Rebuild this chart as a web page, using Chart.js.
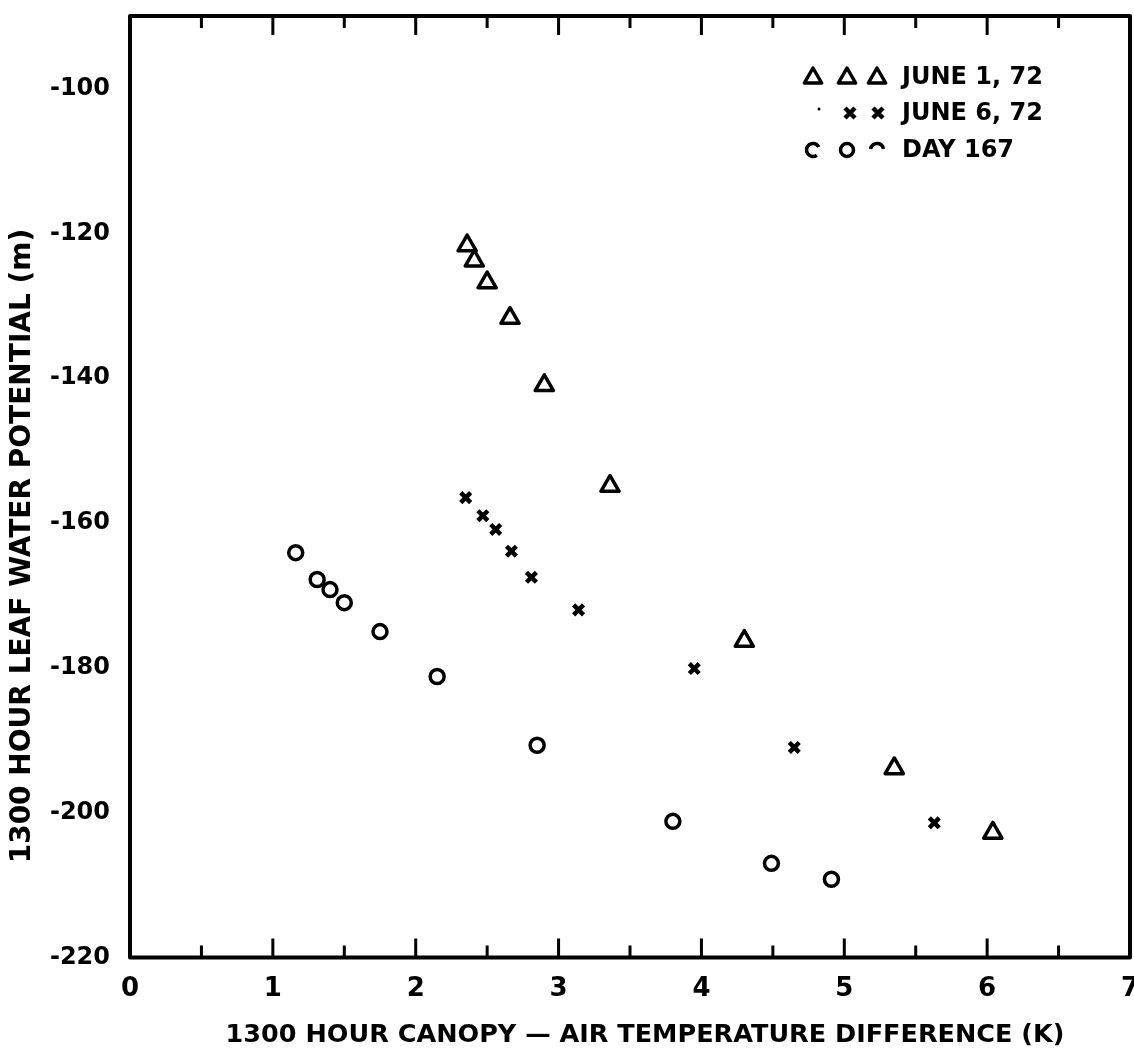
<!DOCTYPE html>
<html>
<head>
<meta charset="utf-8">
<script src="https://cdn.jsdelivr.net/npm/chart.js@4"></script>
<style>
  html, body { margin: 0; padding: 0; background: #fff; }
  #wrap { width: 1134px; height: 1053px; position: relative; }
</style>
</head>
<body>
<div id="wrap"><canvas id="leafChart"></canvas></div>
<script>
// values
const june1X = [2.36, 2.41, 2.50, 2.66, 2.90, 3.36, 4.30, 5.35, 6.04];
const june1Y = [-121.7, -123.8, -126.8, -131.7, -141.0, -154.9, -176.3, -193.9, -202.8];

const june6X = [2.35, 2.47, 2.56, 2.67, 2.81, 3.14, 3.95, 4.65, 5.63];
const june6Y = [-156.5, -159.0, -160.9, -163.9, -167.5, -172.0, -180.1, -191.0, -201.4];

const day167X = [1.16, 1.31, 1.40, 1.50, 1.75, 2.15, 2.85, 3.80, 4.49, 4.91];
const day167Y = [-164.1, -167.8, -169.2, -171.0, -175.0, -181.2, -190.7, -201.2, -207.0, -209.2];

const legendLabels = ['JUNE 1, 72', 'JUNE 6, 72', 'DAY 167'];

const xTitle = '1300 HOUR CANOPY \u2014 AIR TEMPERATURE DIFFERENCE (K)';
const yTitle = '1300 HOUR LEAF WATER POTENTIAL (m)';

const FONT = "'DejaVu Sans', 'Liberation Sans', sans-serif";

function toPoints(xs, ys) {
    return xs.map((x, i) => ({ x: x, y: ys[i] }));
}

// frame + inward ticks on all four sides
const frameTicks = {
    id: 'frameTicks',
    beforeDatasetsDraw(chart) {
        chart.ctx.lineJoin = 'round';
    },
    afterDatasetsDraw(chart) {
        const { ctx, chartArea: a, scales: { x, y } } = chart;
        ctx.save();
        ctx.strokeStyle = '#000';
        ctx.lineCap = 'butt';
        ctx.lineWidth = 3;
        ctx.beginPath();
        // x: major every 1, minor every 0.5
        for (let v = 0.5; v < 7; v += 0.5) {
            const px = x.getPixelForValue(v);
            const major = Math.abs(v - Math.round(v)) < 1e-6;
            const len = major ? 19 : 12;
            ctx.moveTo(px, a.bottom);
            ctx.lineTo(px, a.bottom - len);
            ctx.moveTo(px, a.top);
            ctx.lineTo(px, a.top + len);
        }
        // y: major every 20, minor every 10
        for (let v = -210; v > -90; v += 10) {
            const py = y.getPixelForValue(v);
            const major = v % 20 === 0;
            const len = major ? 19 : 12;
            ctx.moveTo(a.left, py);
            ctx.lineTo(a.left + len, py);
            ctx.moveTo(a.right, py);
            ctx.lineTo(a.right - len, py);
        }
        ctx.stroke();
        ctx.lineWidth = 4;
        ctx.strokeRect(a.left, a.top, a.right - a.left, a.bottom - a.top);
        ctx.restore();
    }
};

// axis titles, placed where the figure has them
const axisTitles = {
    id: 'axisTitles',
    afterDraw(chart) {
        const ctx = chart.ctx;
        ctx.save();
        ctx.fillStyle = '#000';
        ctx.textAlign = 'center';
        ctx.textBaseline = 'middle';
        ctx.font = 'bold 25.5px ' + FONT;
        ctx.fillText(xTitle, 645, 1035);
        ctx.translate(23, 546);
        ctx.rotate(-Math.PI / 2);
        ctx.font = 'bold 28px ' + FONT;
        ctx.fillText(yTitle, 0, 0);
        ctx.restore();
    }
};

// legend in the upper right: three symbols then the label
const symbolLegend = {
    id: 'symbolLegend',
    afterDraw(chart) {
        const ctx = chart.ctx;
        const rows = [77, 113, 150];
        const cols = [813, 847, 877];
        const textX = 902;
        ctx.save();
        ctx.strokeStyle = '#000';
        ctx.fillStyle = '#000';
        ctx.lineJoin = 'round';

        // triangles
        ctx.lineWidth = 3.5;
        cols.forEach(cx => {
            const r = 10, cy = rows[0] + 1;
            ctx.beginPath();
            ctx.moveTo(cx, cy - r);
            ctx.lineTo(cx + r * 0.866, cy + r / 2);
            ctx.lineTo(cx - r * 0.866, cy + r / 2);
            ctx.closePath();
            ctx.stroke();
        });

        // crosses (first one printed only as a dot)
        ctx.beginPath();
        ctx.arc(cols[0] + 6, rows[1] - 4, 1.5, 0, Math.PI * 2);
        ctx.fill();
        ctx.lineWidth = 4.5;
        [cols[1] + 3, cols[2] + 1].forEach(cx => {
            const d = 5;
            ctx.beginPath();
            ctx.moveTo(cx - d, rows[1] - d);
            ctx.lineTo(cx + d, rows[1] + d);
            ctx.moveTo(cx + d, rows[1] - d);
            ctx.lineTo(cx - d, rows[1] + d);
            ctx.stroke();
        });

        // circles (outer two partly missing in the print)
        ctx.lineWidth = 3.5;
        const arcs = [[0.3, 1.85], [0, 2], [1.05, 1.95]];
        cols.forEach((cx, i) => {
            ctx.beginPath();
            ctx.arc(cx, rows[2], 6.5, arcs[i][0] * Math.PI, arcs[i][1] * Math.PI);
            ctx.stroke();
        });

        ctx.font = 'bold 24px ' + FONT;
        ctx.textBaseline = 'middle';
        ctx.textAlign = 'left';
        legendLabels.forEach((t, i) => ctx.fillText(t, textX, rows[i] + 1));
        ctx.restore();
    }
};

Chart.defaults.font.family = FONT;
Chart.defaults.color = '#000';

new Chart(document.getElementById('leafChart'), {
    type: 'scatter',
    data: {
        datasets: [
            {
                label: legendLabels[0],
                data: toPoints(june1X, june1Y),
                pointStyle: 'triangle',
                pointRadius: 10.5,
                pointBorderWidth: 3.5,
                pointBorderColor: '#000',
                pointBackgroundColor: 'rgba(0,0,0,0)'
            },
            {
                label: legendLabels[1],
                data: toPoints(june6X, june6Y),
                pointStyle: 'crossRot',
                pointRadius: 7,
                pointBorderWidth: 4.5,
                pointBorderColor: '#000',
                pointBackgroundColor: '#000'
            },
            {
                label: legendLabels[2],
                data: toPoints(day167X, day167Y),
                pointStyle: 'circle',
                pointRadius: 7,
                pointBorderWidth: 3.5,
                pointBorderColor: '#000',
                pointBackgroundColor: 'rgba(0,0,0,0)'
            }
        ]
    },
    options: {
        responsive: true,
        maintainAspectRatio: false,
        animation: false,
        layout: { autoPadding: false, padding: { top: 16, right: 4, bottom: 0, left: 0 } },
        plugins: {
            legend: { display: false },
            tooltip: { enabled: false }
        },
        scales: {
            x: {
                type: 'linear',
                min: 0,
                max: 7,
                grid: { display: false, drawTicks: false },
                border: { display: false },
                ticks: {
                    stepSize: 1,
                    padding: 16,
                    font: { size: 26, weight: 'bold' },
                    color: '#000'
                },
                afterFit(scale) {
                    scale.height = 95.5;
                    scale.paddingLeft = 0;
                    scale.paddingRight = 0;
                }
            },
            y: {
                type: 'linear',
                min: -220,
                max: -90,
                grid: { display: false, drawTicks: false },
                border: { display: false },
                ticks: {
                    stepSize: 20,
                    includeBounds: false,
                    padding: 20,
                    font: { size: 24, weight: 'bold' },
                    color: '#000'
                },
                afterFit(scale) {
                    scale.width = 130;
                    scale.paddingTop = 0;
                    scale.paddingBottom = 0;
                }
            }
        }
    },
    plugins: [frameTicks, axisTitles, symbolLegend]
});
</script>
</body>
</html>
